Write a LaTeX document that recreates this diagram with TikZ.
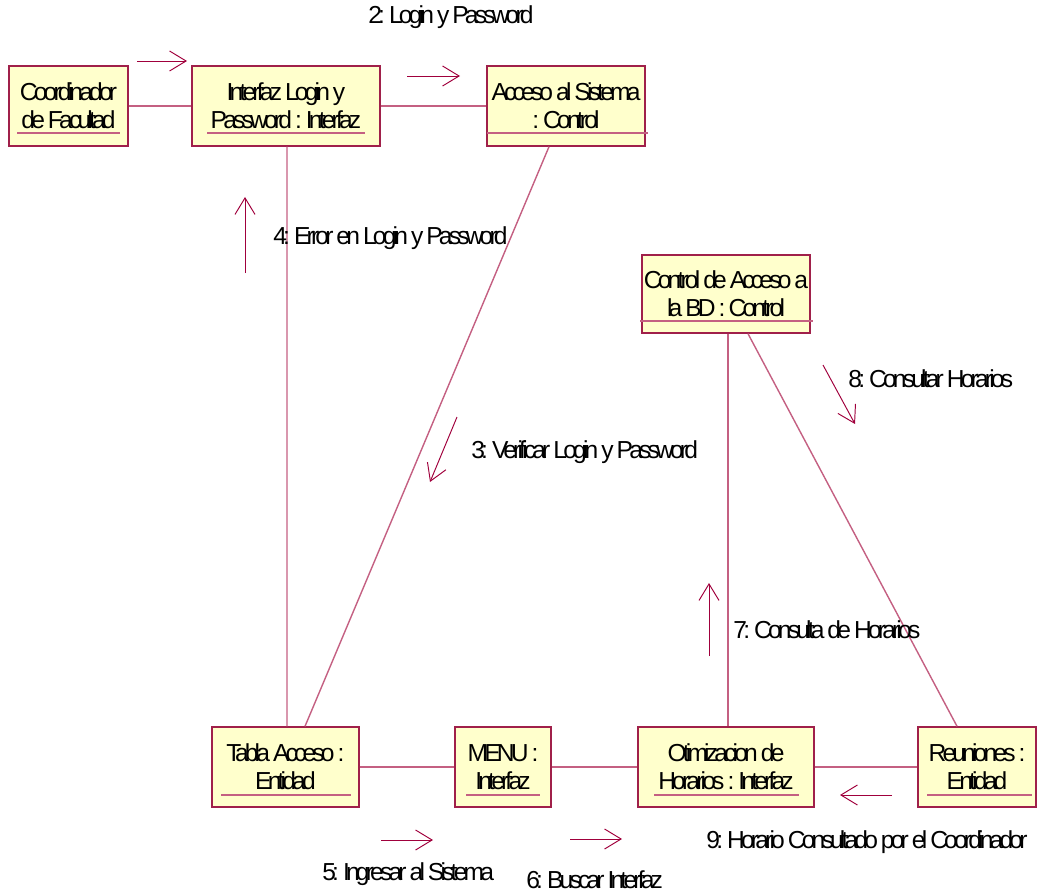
\documentclass[tikz,border=0pt]{standalone}
\usepackage{fontspec}
\setmainfont{Liberation Sans}[LetterSpace=-15.5]
\usepackage{tikz}
\usetikzlibrary{arrows.meta}
\definecolor{umlfill}{RGB}{255,255,204}
\definecolor{umlborder}{RGB}{160,32,74}
\definecolor{umllink}{RGB}{196,96,130}
\definecolor{umlmsg}{RGB}{160,0,60}

\begin{document}
\begin{tikzpicture}[x=0.02cm,y=-0.02cm,
    obj/.style={draw=umlborder,fill=umlfill,line width=0.8pt,rectangle,
      minimum height=80*0.02cm,align=center,inner sep=0pt,
      font=\fontsize{14}{16}\selectfont},
    link/.style={draw=umllink,line width=0.8pt},
    uline/.style={draw=umllink,line width=0.8pt},
    msg/.style={draw=umlmsg,line width=0.55pt,-{Straight Barb[length=3.3mm,width=4mm]}},
    lbl/.style={anchor=west,inner sep=0pt,font=\fontsize{14}{16}\selectfont}]
    \useasboundingbox (0,0) rectangle (1037,895);
    \node[obj,minimum width=119*0.02cm] (coord) at (68.5,106) {Coordinador\\de Facultad};
    \node[obj,minimum width=188*0.02cm] (login) at (286,106) {Interfaz Login y\\Password : Interfaz};
    \node[obj,minimum width=158*0.02cm] (acceso) at (566,106) {Acceso al Sistema\\: Control};
    \node[obj,minimum width=168*0.02cm,minimum height=78*0.02cm] (ctrlbd) at (726,294) {Control de Acceso a\\la BD : Control};
    \node[obj,minimum width=147*0.02cm] (tabla) at (285.5,767) {Tabla Acceso :\\Entidad};
    \node[obj,minimum width=96*0.02cm] (menu) at (503,767) {MENU :\\Interfaz};
    \node[obj,minimum width=176*0.02cm] (otim) at (726,767) {Otimizacion de\\Horarios : Interfaz};
    \node[obj,minimum width=118*0.02cm] (reun) at (977,767) {Reuniones :\\Entidad};
    \draw[uline] (17,133) -- (120,133);
    \draw[uline] (207,133) -- (365,133);
    \draw[uline] (487,133) -- (648,133);
    \draw[uline] (640,321) -- (813,321);
    \draw[uline] (221,795) -- (351,795);
    \draw[uline] (466,795) -- (540,795);
    \draw[uline] (654,795) -- (799,795);
    \draw[uline] (927,795) -- (1032,795);
    \draw[link] (coord.east) -- (login.west);
    \draw[link] (login.east) -- (acceso.west);
    \draw[link] ([shift={(1,0)}]login.south) -- ([shift={(1.5,0)}]tabla.north);
    \draw[link] ([shift={(-17,0)}]acceso.south) -- ([shift={(19.5,0)}]tabla.north);
    \draw[link] ([shift={(2,0)}]ctrlbd.south) -- ([shift={(2,0)}]otim.north);
    \draw[link] ([shift={(22,0)}]ctrlbd.south) -- ([shift={(-20,0)}]reun.north);
    \draw[link] (tabla.east) -- (menu.west);
    \draw[link] (menu.east) -- (otim.west);
    \draw[link] (otim.east) -- (reun.west);
    \draw[msg] (137,61) -- (187,61);
    \draw[msg] (407,76) -- (460,76);
    \draw[msg] (245,273) -- (245,197);
    \draw[msg] (457,417) -- (430,482);
    \draw[msg] (823,365) -- (855,424);
    \draw[msg] (709,656) -- (709,583);
    \draw[msg] (381,840) -- (433,840);
    \draw[msg] (570,839) -- (622,839);
    \draw[msg] (892,795) -- (840,795);
    \node[lbl] (m2) at (368,17) {2: Login y Password};
    \node[lbl] (m4) at (273,238) {4: Error en Login y Password};
    \node[lbl] (m3) at (471,452) {3: Verificar Login y Password};
    \node[lbl] (m8) at (848,379) {8: Consultar Horarios};
    \node[lbl] (m7) at (733,630) {7: Consulta de Horarios};
    \node[lbl] (m5) at (322,874) {5: Ingresar al Sistema};
    \node[lbl] (m6) at (526,880) {6: Buscar Interfaz};
    \node[lbl] (m9) at (706,842) {9: Horario Consultado por el Coordinador};
\end{tikzpicture}
\end{document}
